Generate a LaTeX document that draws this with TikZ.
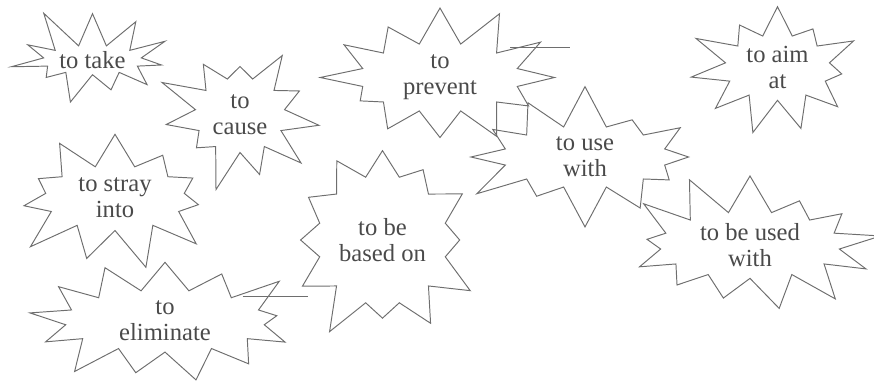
\documentclass[tikz,border=0pt]{standalone}
\usepackage{fontspec}
\setmainfont{Liberation Serif}
\usepackage{xcolor}
\usepackage{tikz}
\usetikzlibrary{shapes.symbols, calc}

\definecolor{burstgray}{HTML}{6E6E6E}
\definecolor{wordgray}{HTML}{4A4A4A}

\begin{document}
\begin{tikzpicture}[
    burst/.style={starburst, draw=burstgray, line width=0.55pt, align=center,
        text=wordgray, font=\fontsize{14}{15}\selectfont, starburst point height=0.85cm, inner sep=1pt},
    tail/.style={draw=burstgray, line width=0.55pt}
]
\useasboundingbox (0,0) rectangle (17.48,-7.68);
% first row
\node[burst, starburst points=11, random starburst=11, minimum width=3.3cm, minimum height=2.05cm] (take) at (1.85,-1.2) {to take};
\node[burst, starburst points=11, random starburst=23, minimum width=3.5cm, minimum height=3.2cm] (cause) at (4.8,-2.3) {to\\cause};
\node[burst, starburst points=12, random starburst=37, minimum width=4.9cm, minimum height=2.7cm] (prevent) at (8.8,-1.55) {to\\prevent};
\node[burst, starburst points=11, random starburst=41, minimum width=3.8cm, minimum height=2.3cm] (aim) at (15.55,-1.35) {to aim\\at};
% second row
\node[burst, starburst points=12, random starburst=53, minimum width=5.0cm, minimum height=2.7cm] (use) at (11.7,-3.14) {to use\\with};
\node[burst, starburst points=11, random starburst=67, minimum width=4.5cm, minimum height=3.0cm] (stray) at (2.3,-3.96) {to stray\\into};
\node[burst, starburst points=12, random starburst=71, minimum width=4.3cm, minimum height=4.3cm] (based) at (7.65,-4.8) {to be\\based on};
\node[burst, starburst points=13, random starburst=83, minimum width=5.3cm, minimum height=3.0cm] (used) at (15.0,-4.9) {to be used\\with};
% bottom
\node[burst, starburst points=13, random starburst=97, minimum width=5.7cm, minimum height=2.6cm] (elim) at (3.3,-6.42) {to\\eliminate};

% loose spike ends
\draw[tail] ($(prevent.center)+(1.4,0.6)$) -- ++(1.2,0);
\draw[tail] ($(elim.center)+(1.55,0.5)$) -- ++(1.3,0);
\end{tikzpicture}
\end{document}
